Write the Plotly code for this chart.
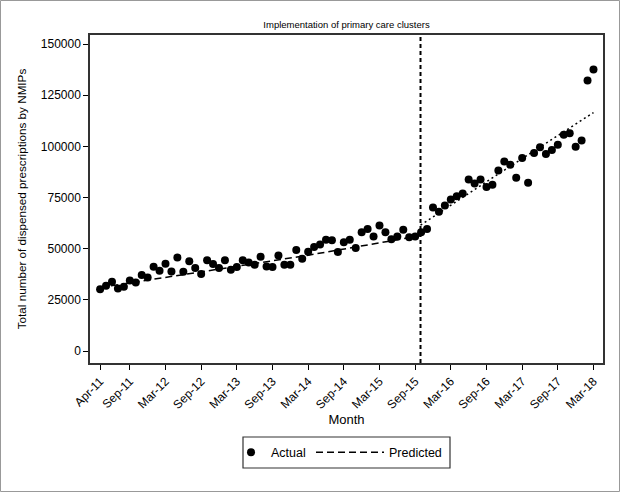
import plotly.graph_objects as go

# Month index 0 = Apr-11 ... 83 = Mar-18
month_idx = list(range(84))
actual = [
    30200, 31900, 33800, 30500, 31400, 34500, 33500, 37100, 35900, 41200,
    39200, 42600, 38900, 45700, 38700, 43800, 40500, 37600, 44300, 42500,
    40500, 44300, 39700, 41000, 44300, 43300, 42200, 46100, 41300, 41000,
    46700, 42200, 42200, 49300, 45100, 48500, 50800, 52000, 54400, 54100,
    48400, 53100, 54400, 50300, 58000, 59600, 55900, 61300, 58000, 54600,
    56000, 59200, 55600, 56000, 58000, 59600, 70100, 68100, 71100, 74000,
    75600, 77000, 83800, 81900, 83800, 80100, 81200, 88200, 92600, 91000,
    84600, 94300, 82200, 96700, 99500, 96300, 98200, 100800, 105700, 106400,
    99800, 102900, 132200, 137600,
]

# Predicted (segmented regression) lines
pre_months = [0, 17, 35, 53.9]
pre_values = [31000, 38500, 46800, 56300]
post_months = [53.9, 67, 83]
post_values = [61500, 86500, 116500]

intervention_month = 53.9

tick_months = [0, 5, 11, 17, 23, 29, 35, 41, 47, 53, 59, 65, 71, 77, 83]
tick_labels = ["Apr-11", "Sep-11", "Mar-12", "Sep-12", "Mar-13", "Sep-13", "Mar-14",
               "Sep-14", "Mar-15", "Sep-15", "Mar-16", "Sep-16", "Mar-17", "Sep-17", "Mar-18"]
y_ticks = [0, 25000, 50000, 75000, 100000, 125000, 150000]

FONT = "Liberation Sans, Arial, Helvetica, sans-serif"

W, H = 620, 492
ml, mr, mt, mb = 90, 17, 35, 129
pw, ph = W - ml - mr, H - mt - mb


def px_x(p):
    return (p - ml) / pw


def px_y(p):
    return (mt + ph - p) / ph


fig = go.Figure()
fig.add_trace(go.Scatter(
    x=month_idx, y=actual, mode="markers", name="Actual", legend="legend",
    marker=dict(color="black", size=8, line=dict(width=0)),
))
fig.add_trace(go.Scatter(
    x=pre_months, y=pre_values, mode="lines", name="Predicted", legend="legend2",
    line=dict(color="black", width=1.5, dash="7px,4px"),
))
fig.add_trace(go.Scatter(
    x=post_months, y=post_values, mode="lines", name="Predicted post",
    line=dict(color="black", width=1.5, dash="2px,3px"), showlegend=False,
))

fig.add_shape(type="line", xref="x", yref="paper", x0=intervention_month, x1=intervention_month,
              y0=0, y1=1, line=dict(color="black", width=2, dash="4px,3px"))
# outer border of the whole image
fig.add_shape(type="rect", xref="paper", yref="paper",
              x0=px_x(0.5), x1=px_x(W - 0.5), y0=px_y(H - 0.5), y1=px_y(0.5),
              line=dict(color="#999999", width=1))
# legend box
fig.add_shape(type="rect", xref="paper", yref="paper",
              x0=px_x(243), x1=px_x(450), y0=px_y(468), y1=px_y(437),
              line=dict(color="#333333", width=1.2))

leg_common = dict(orientation="h", xanchor="left", yanchor="middle", y=px_y(452.5),
                  borderwidth=0, bgcolor="rgba(0,0,0,0)", font=dict(size=12.5))

fig.update_layout(
    width=W, height=H,
    margin=dict(l=ml, r=mr, t=mt, b=mb),
    paper_bgcolor="white", plot_bgcolor="white",
    font=dict(family=FONT, size=12, color="black"),
    title=dict(text="Implementation of primary care clusters", x=(ml + pw / 2) / W, xanchor="center",
               y=1 - 25 / H, yanchor="middle", font=dict(size=9.5, color="black")),
    xaxis=dict(
        range=[-1.7, 84.6], tickvals=tick_months, ticktext=tick_labels, tickangle=-45,
        ticks="outside", ticklen=5, tickwidth=1, tickcolor="black",
        showline=True, mirror=True, linecolor="#333333", linewidth=1.5,
        showgrid=False, zeroline=False, tickfont=dict(size=12),
        title=dict(text="Month", font=dict(size=13), standoff=0),
    ),
    yaxis=dict(
        range=[-5860, 154400], tickvals=y_ticks, ticktext=[str(v) for v in y_ticks],
        ticks="outside", ticklen=5, tickwidth=1, tickcolor="black",
        showline=True, mirror=True, linecolor="#333333", linewidth=1.5,
        showgrid=False, zeroline=False, tickfont=dict(size=12),
        title=dict(text="Total number of dispensed prescriptions by NMIPs", font=dict(size=11.7), standoff=12),
    ),
    legend=dict(x=px_x(231), itemwidth=30, **leg_common),
    legend2=dict(x=px_x(311), itemwidth=68, **leg_common),
    showlegend=True,
)

fig.write_html("out.html", config={"displayModeBar": False},
               post_script="document.body.style.margin='0px';")
